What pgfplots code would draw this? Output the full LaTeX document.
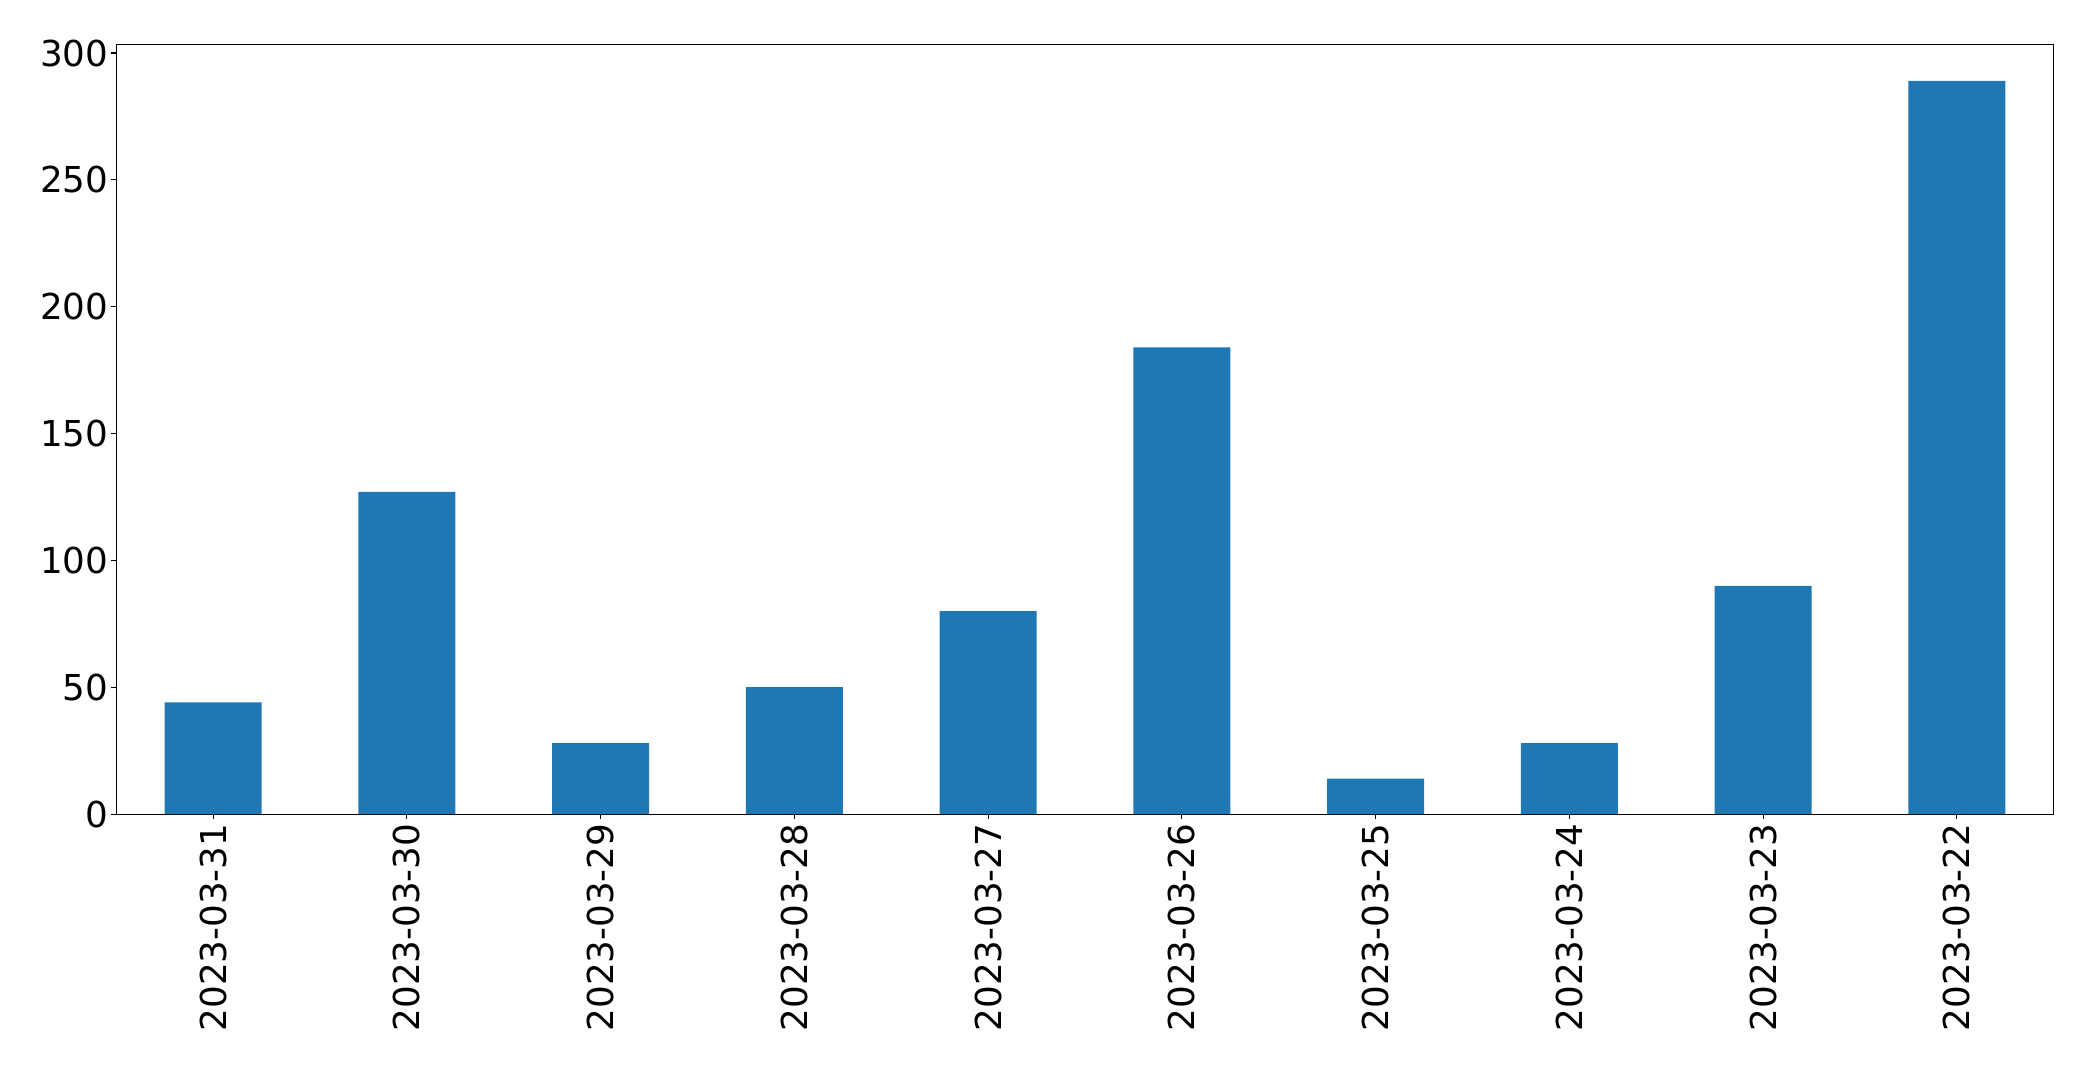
\documentclass[border=0pt]{standalone}
\usepackage{pgfplots}
\pgfplotsset{compat=1.18}
\usepackage{fontspec}
\setmainfont{DejaVu Sans}
\definecolor{tabblue}{RGB}{31,119,180}
\begin{document}
\begin{tikzpicture}
\useasboundingbox (-83.7bp,-181.4bp) rectangle (1423.2bp,586.1bp);
\begin{axis}[
  at={(0,0)}, anchor=south west,
  scale only axis, width=1394.9bp, height=554.2bp,
  xmin=-0.5, xmax=9.5, ymin=0, ymax=303.45,
  xtick={0,...,9},
  xticklabels={2023-03-31,2023-03-30,2023-03-29,2023-03-28,2023-03-27,2023-03-26,2023-03-25,2023-03-24,2023-03-23,2023-03-22},
  x tick label style={rotate=90, anchor=east},
  y tick label style={inner sep=2bp},
  ytick={0,50,100,150,200,250,300},
  tick align=outside, tick pos=left,
  major tick length=3.5bp,
  axis line style={black, line width=0.8bp},
  every tick/.style={black, line width=0.8bp},
  tick label style={font=\fontsize{25.7bp}{30bp}\selectfont},
  /pgf/number format/assume math mode=true,
]
\addplot[ybar, bar width=0.5, fill=tabblue, draw=none] coordinates {
  (0,44) (1,127) (2,28) (3,50) (4,80) (5,184) (6,14) (7,28) (8,90) (9,289)
};
\end{axis}
\end{tikzpicture}
\end{document}
